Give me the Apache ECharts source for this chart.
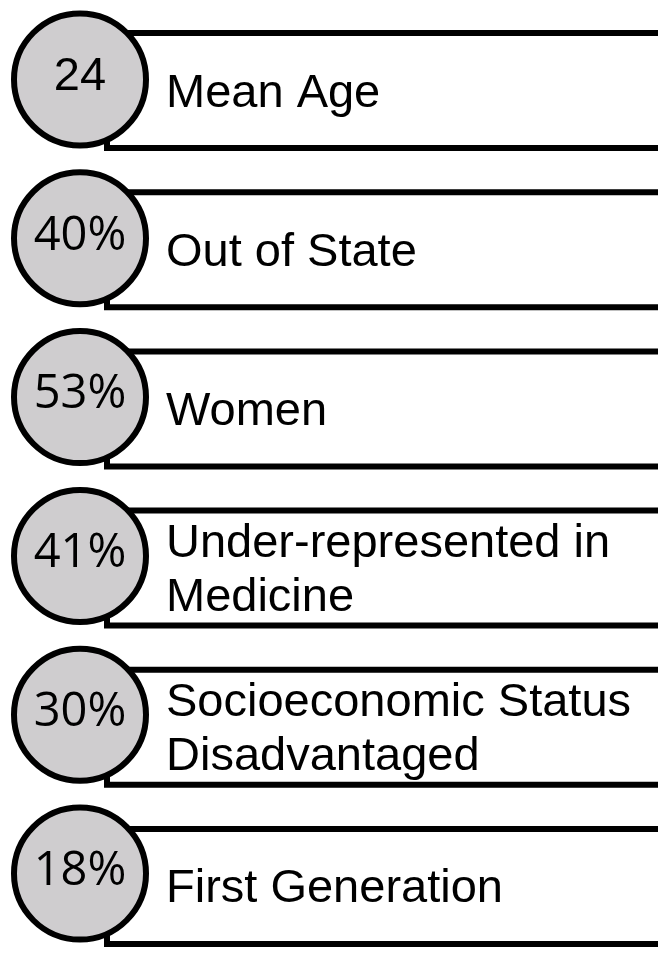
<!DOCTYPE html>
<html>
<head>
<meta charset="utf-8">
<script src="https://cdn.jsdelivr.net/npm/echarts@6/dist/echarts.min.js"></script>
<style>
  html, body { margin: 0; padding: 0; background: #fff; }
  #main { width: 658px; height: 966px; }
</style>
</head>
<body>
<div id="main"></div>
<script>
// row data
const stats = ['24', '40%', '53%', '41%', '30%', '18%']
const labels = [
  'Mean Age',
  'Out of State',
  'Women',
  'Under-represented in\nMedicine',
  'Socioeconomic Status\nDisadvantaged',
  'First Generation'
]
const rows = labels.map((_, i) => i)

const chart = echarts.init(document.getElementById('main'))

const hiddenAxis = { show: false }

const option = {
  animation: false,
  backgroundColor: '#fff',
  grid: [
    // circles
    { left: 0, right: 0, top: -7, height: 960 },
    // boxes + text
    { left: 0, right: 0, top: 11, height: 977 }
  ],
  xAxis: [
    { type: 'value', min: 0, max: 658, gridIndex: 0, ...hiddenAxis },
    { type: 'value', min: 0, max: 658, gridIndex: 1, ...hiddenAxis }
  ],
  yAxis: [
    { type: 'category', data: rows, inverse: true, gridIndex: 0, ...hiddenAxis },
    { type: 'category', data: rows, inverse: true, gridIndex: 1, ...hiddenAxis }
  ],
  series: [
    {
      type: 'custom',
      xAxisIndex: 1,
      yAxisIndex: 1,
      z: 2,
      data: rows.map(i => [0, i]),
      renderItem (params, api) {
        const idx = api.value(1)
        const c = api.coord([0, idx])
        const top = c[1] - 57.5
        const bot = c[1] + 57.5
        const left = api.coord([107, idx])[0]
        const right = api.coord([670, idx])[0]
        return {
          type: 'group',
          children: [
            {
              type: 'polyline',
              shape: { points: [[right, top], [left, top], [left, bot], [right, bot]] },
              style: { stroke: '#000', lineWidth: 6, fill: null, lineJoin: 'miter' }
            },
            {
              type: 'text',
              style: {
                x: api.coord([166, idx])[0],
                y: c[1] + 3,
                text: labels[params.dataIndex],
                font: '47px "Liberation Sans", Arial, sans-serif',
                fill: '#000',
                verticalAlign: 'middle',
                align: 'left',
                lineHeight: 54
              }
            }
          ]
        }
      }
    },
    {
      type: 'scatter',
      xAxisIndex: 0,
      yAxisIndex: 0,
      z: 5,
      symbol: 'circle',
      symbolSize: 132,
      itemStyle: { color: '#cfcdcf', borderColor: '#000', borderWidth: 6, opacity: 1 },
      label: {
        show: true,
        position: 'inside',
        offset: [0, -2],
        color: '#000',
        fontSize: 47,
        formatter: p => stats[p.dataIndex]
      },
      emphasis: { disabled: true },
      data: stats.map((s, i) => ({
        value: [80, i],
        label: {
          fontSize: 47,
          fontFamily: s.indexOf('%') >= 0 ? 'Open Sans' : 'Liberation Sans'
        }
      }))
    }
  ]
}

chart.setOption(option)
</script>
</body>
</html>
